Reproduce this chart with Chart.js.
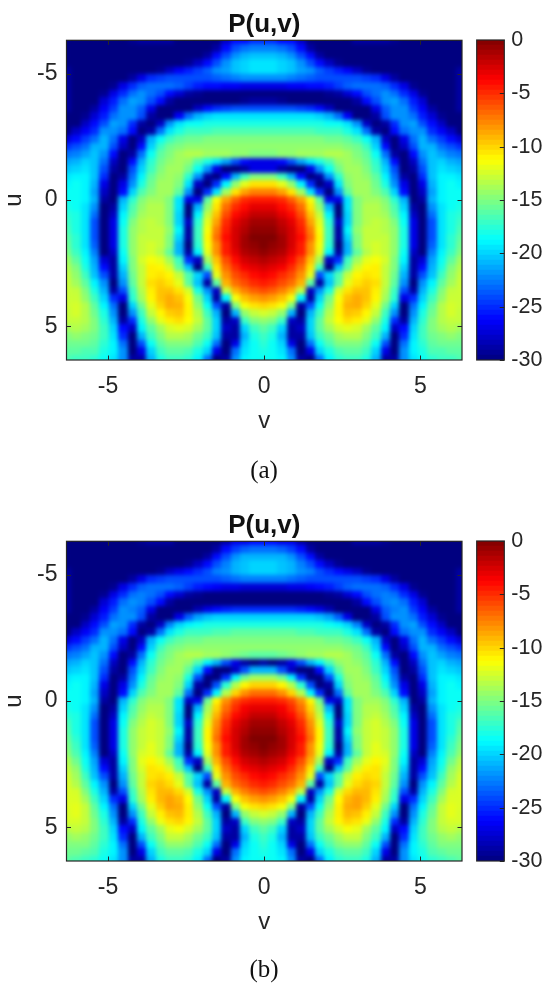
<!DOCTYPE html>
<html><head><meta charset="utf-8">
<script src="https://cdn.jsdelivr.net/npm/chart.js@4"></script>
<style>
html,body{margin:0;padding:0;background:#fff;width:544px;height:989px;overflow:hidden}
canvas{position:absolute}
.cap{position:absolute;left:214px;width:100px;text-align:center;font:25px "Liberation Serif",serif;color:#111;line-height:30px}
</style></head><body>
<canvas id="heatA" width="544" height="490" style="left:0;top:0"></canvas>
<canvas id="barA" width="74" height="490" style="left:470px;top:0"></canvas>
<div class="cap" style="top:455px">(a)</div>
<canvas id="heatB" width="544" height="490" style="left:0;top:501.3px"></canvas>
<canvas id="barB" width="74" height="490" style="left:470px;top:501.3px"></canvas>
<div class="cap" style="top:954px">(b)</div>
<script>
const titleText = "P(u,v)";
const xLabel = "v";
const yLabel = "u";
const xTickValues = [-5,0,5];
const yTickValues = [-5,0,5];
const colorMin = -30, colorMax = 0, colorStep = 5;
// v >= 0 columns; the pattern is mirror-symmetric about v = 0
const vValues = [0,.3,.6,.9,1.2,1.5,1.8,2.1,2.4,2.7,3,3.3,3.6,3.9,4.2,4.5,4.8,5.1,5.4,5.7,6,6.3];
const uValues = [-6.3,-6,-5.7,-5.4,-5.1,-4.8,-4.5,-4.2,-3.9,-3.6,-3.3,-3,-2.7,-2.4,-2.1,-1.8,-1.5,-1.2,-.9,-.6,-.3,0,.3,.6,.9,1.2,1.5,1.8,2.1,2.4,2.7,3,3.3,3.6,3.9,4.2,4.5,4.8,5.1,5.4,5.7,6,6.3];
const powerA = [
[-25,-25,-26,-26,-28,-30,-30,-30,-30,-30,-29,-29,-29,-29,-29.5,-30,-30,-30,-30,-30,-30,-30],
[-22.5,-22.5,-23,-24,-26,-29,-30,-30,-30,-30,-30,-30,-30,-30,-30,-30,-30,-30,-30,-30,-30,-30],
[-20.5,-20.5,-21,-22,-24,-26,-29,-30,-30,-30,-30,-30,-30,-30,-30,-30,-30,-30,-30,-30,-30,-30],
[-19.5,-19.5,-20,-20.5,-22,-24,-26,-28,-29.5,-30,-30,-30,-30,-30,-30,-30,-30,-30,-30,-30,-30,-30],
[-19.5,-19.5,-20,-20.5,-21.5,-22,-23.5,-24.5,-25.5,-26.5,-28,-29.5,-30,-30,-30,-30,-30,-30,-30,-30,-30,-29],
[-22,-22,-22,-22.5,-23,-23.5,-24,-24,-24,-24,-24,-24.5,-25,-27,-29,-30,-30,-30,-30,-30,-30,-29],
[-27,-27,-27,-26.5,-26.5,-26,-26,-25.5,-24.5,-23.5,-23,-23,-23,-23.5,-25,-27,-29.5,-30,-30,-30,-30,-29],
[-30,-30,-30,-30,-30,-30,-30,-29.5,-29,-27.5,-26,-24,-23,-22,-23,-25,-27,-29.5,-30,-30,-30,-29],
[-29,-29,-29.5,-30,-30,-30,-30,-30,-30,-30,-29,-26,-24,-22,-21.5,-23,-25.5,-27.5,-30,-30,-30,-29],
[-24,-24,-24,-24,-24.5,-25,-26,-28,-30,-30,-30,-30,-27,-23.5,-22,-22,-24.5,-26.5,-29,-30,-30,-29],
[-19.5,-19.5,-19.5,-19.5,-19.5,-19.5,-20,-21,-23,-26.5,-30,-30,-29,-24,-22,-22,-23,-25.5,-27.5,-29.5,-30,-30],
[-18,-18,-18,-18,-18,-18,-18,-18.5,-18.5,-19.5,-22,-28,-30,-29,-25,-22,-21.5,-24,-26,-28,-30,-30],
[-16.5,-16.5,-16.5,-16.5,-16.5,-16.5,-17,-17,-17,-18,-19.5,-23,-29,-30,-26,-23,-22,-22,-25,-26.5,-28,-30],
[-15,-15,-15,-15,-15,-15,-15,-15.5,-15.5,-16,-17,-18.5,-21,-28,-30,-27,-23,-21,-23,-24.5,-26,-27.5],
[-14.5,-14.5,-14.5,-14.5,-14.5,-14.5,-14.5,-14.5,-14.5,-15,-15.5,-17,-20,-26,-30,-28,-24,-21,-21,-23,-24,-25],
[-15,-15,-14.5,-14.5,-14,-14,-14,-13.5,-13.5,-14,-15,-16,-18.5,-23,-29,-30,-26,-22,-20.5,-21.5,-22.5,-23],
[-27,-27,-26,-24,-21.5,-19.5,-18,-16.5,-14.5,-14,-14.5,-15.5,-17.5,-21,-26,-30,-28,-23,-20.5,-20,-21,-21.5],
[-27,-27,-29,-30,-30,-27,-22,-18.5,-15.5,-14,-14,-15,-17,-20,-24,-30,-29,-24,-20.5,-19.5,-20,-20.5],
[-15,-15,-17,-21,-26,-30,-29,-22,-17.5,-14.5,-14,-14.5,-16,-19,-23,-29,-30,-25,-20.5,-19,-19,-19.5],
[-10.5,-10.5,-12,-14.5,-19,-25,-30,-28,-19.5,-15,-14,-14,-15.5,-18,-22,-27,-30,-27,-21,-19,-18.5,-19],
[-7.5,-7.5,-8.5,-10.5,-14,-19.5,-25,-30,-22,-16,-14,-14,-15,-16.5,-20,-26,-30,-28,-21.5,-19,-18.5,-18.5],
[-4.5,-4.5,-5,-6.5,-8.5,-11.5,-16,-27,-27,-19.5,-15,-14,-14,-15,-17.5,-21,-30,-29,-21,-19,-18.5,-18.5],
[-3,-3,-4,-5,-7,-10.5,-14.5,-21,-30,-19.5,-15,-13.5,-13.5,-14.5,-16.5,-20,-29,-30,-22,-19.5,-18.5,-18],
[-2,-2,-3,-4,-6,-9.5,-13,-19,-30,-20,-15,-13.5,-13.5,-14,-16,-19,-28,-30,-23,-19.5,-18,-17.5],
[-1,-1,-2,-3,-5,-8.5,-12,-17.5,-28,-20,-15,-13.5,-13,-13.5,-15,-18.5,-27,-30,-24,-19.5,-18,-17],
[-.5,-.5,-1.5,-2.5,-4.5,-7.5,-11.5,-17,-29,-19,-14.5,-13,-13,-13.5,-14.5,-18,-27,-30,-24,-19.5,-18,-16.5],
[0,0,-1,-2.5,-4,-7,-11,-17,-29,-20,-15,-13,-13,-13,-14.5,-18,-27,-30,-24,-19.5,-17.5,-16],
[0,-.5,-1,-2.5,-4.5,-8,-11.5,-17.5,-30,-21,-15,-13,-12.5,-13,-14.5,-18,-27,-30,-23.5,-19.5,-17.5,-15.5],
[-.5,-1,-1.5,-3,-4.5,-8,-12,-19,-29,-21,-16,-13.5,-12.5,-13,-14.5,-18.5,-28,-30,-22.5,-19,-17,-15],
[-1.5,-2,-2.5,-4,-6,-9.5,-14,-28,-25,-17,-14,-12,-11.5,-12.5,-15,-19,-29,-27.5,-21.5,-18.5,-16,-14],
[-2.5,-3,-3.5,-5,-7,-10.5,-17,-30,-20.5,-16,-12.5,-11,-10.8,-13,-15,-20,-29,-26,-21,-18,-15,-13.5],
[-3.5,-4,-5,-6,-8,-12,-24,-20,-16.5,-13,-11,-10.5,-10.8,-13,-15.5,-21,-29,-24,-20.5,-17,-14.5,-13],
[-4.5,-5,-6,-7,-9,-16,-29,-20.5,-16,-12,-10.5,-9.8,-10.3,-13,-16,-22,-30,-22,-19,-16,-14,-12.8],
[-6,-6.5,-7.5,-9,-13,-28,-22,-18,-12.5,-10.5,-9.5,-9.5,-10.8,-13.5,-17,-24,-29,-21,-18,-15,-13,-12.8],
[-8,-8.5,-9.5,-11.5,-19,-29,-20,-15.5,-11.5,-9.5,-8.8,-9.5,-11,-14,-17.5,-27,-25,-20,-17,-14.5,-12.8,-12.8],
[-10,-10.5,-11.5,-15,-29,-24,-18.5,-14.5,-11,-9,-8.8,-10,-12,-15.5,-20,-30,-23,-19,-16,-13.5,-12.5,-12.8],
[-12.5,-13,-14.5,-21,-30,-21,-17,-13.5,-11,-9.5,-9.8,-11,-13,-17,-22,-30,-22,-18,-15.5,-13.5,-12.5,-13],
[-14.5,-15,-17,-28,-29,-20,-16,-13,-11.3,-10.3,-10.8,-12,-14.5,-18,-25,-29,-21,-17.5,-15,-13.5,-13,-13],
[-16,-17,-20,-29,-28,-20,-16,-14,-12.5,-12,-12.5,-14,-16,-19,-28,-26,-20,-17,-15,-14,-13.5,-14],
[-17,-18,-21,-29,-29,-20.5,-17,-15.5,-14,-13.5,-13.5,-15,-17,-21,-30,-25,-19.5,-17,-15.5,-15,-14.5,-15],
[-17.5,-18.5,-20,-27,-30,-23,-18.5,-16.5,-15,-15,-15,-16,-18.5,-24,-30,-23,-19,-17.5,-16,-15.5,-15.5,-15.5],
[-18,-18.5,-19.5,-23,-30,-27,-20,-18,-16.5,-16,-16,-17,-20,-27,-30,-22,-19,-18,-16.5,-16.5,-16,-16],
[-18.5,-18.5,-19,-22,-29,-30,-23,-19,-17.5,-17,-17,-18,-21,-29,-29,-22,-19.5,-18.5,-17.5,-17,-17,-16.5]
];
const powerB = [
[-26,-26,-27,-27,-29,-30,-30,-30,-30,-30,-29,-29,-29,-29.5,-30,-30,-30,-30,-30,-30,-30,-30],
[-23,-23,-23.5,-24.5,-26,-29,-30,-30,-30,-30,-30,-30,-30,-30,-30,-30,-30,-30,-30,-30,-30,-30],
[-21,-21,-21,-22,-24,-26,-29,-30,-30,-30,-30,-30,-30,-30,-30,-30,-30,-30,-30,-30,-30,-30],
[-20,-20,-20.5,-21,-22.5,-24,-26,-28,-29.5,-30,-30,-30,-30,-30,-30,-30,-30,-30,-30,-30,-30,-30],
[-20,-20,-20.5,-21,-22,-22.5,-24,-25,-26,-27,-28,-29.5,-30,-30,-30,-30,-30,-30,-30,-30,-30,-29],
[-22.5,-22.5,-22.5,-23,-23.5,-24,-24,-24,-24,-24,-24,-24.5,-25,-27,-29,-30,-30,-30,-30,-30,-30,-29],
[-27.5,-27.5,-27.5,-27,-27,-26.5,-26,-25.5,-24.5,-23.5,-23,-23,-23,-23.5,-25,-27,-29.5,-30,-30,-30,-30,-29],
[-30,-30,-30,-30,-30,-30,-30,-29.5,-29,-27.5,-26,-24,-23,-22.5,-23,-25,-27,-29.5,-30,-30,-30,-29],
[-30,-30,-30,-30,-30,-30,-30,-30,-30,-30,-29,-26,-24,-22.5,-22,-23,-25.5,-27.5,-30,-30,-30,-29],
[-25,-25,-25,-25,-25.5,-26,-27,-28.5,-30,-30,-30,-30,-27,-23.5,-22.5,-22,-24.5,-26.5,-29,-30,-30,-29],
[-20,-20,-20,-20,-20,-20,-20.5,-21.5,-23.5,-27,-30,-30,-29,-24,-22,-22,-23,-25.5,-27.5,-29.5,-30,-30],
[-18,-18,-18,-18,-18,-18,-18,-18.5,-19,-20,-22.5,-28,-30,-29,-25,-22,-21.5,-24,-26,-28,-30,-30],
[-16,-16,-16,-16,-16.5,-16.5,-17,-17,-17,-18,-19.5,-23,-29,-30,-26,-23,-22,-22,-25,-26.5,-28,-30],
[-15,-15,-15,-15,-15,-15,-15,-15.5,-15.5,-16,-17,-18.5,-21,-28,-30,-27,-23,-21,-23,-24.5,-26,-27.5],
[-14.5,-14.5,-14.5,-14.5,-14.5,-14.5,-14.5,-14.5,-14.5,-15,-15.5,-17,-20,-26,-30,-28,-24,-21,-21,-23,-24,-25],
[-16,-16,-15.5,-15,-14.5,-14,-14,-13.5,-13.5,-14,-15,-16,-18.5,-23,-29,-30,-26,-22,-20.5,-21.5,-22.5,-23],
[-29,-30,-29,-27,-24,-21,-19,-16.5,-14.5,-14,-14.5,-15.5,-17.5,-21,-26,-30,-28,-23,-20.5,-20,-21,-21.5],
[-21,-21,-24,-28,-30,-30,-26,-20,-16,-14,-14,-15,-17,-20,-24,-30,-29,-24,-20.5,-19.5,-20,-20.5],
[-14,-14,-15.5,-19,-25,-30,-30,-24,-18,-14.5,-14,-14.5,-16,-19,-23,-29,-30,-25,-20.5,-19,-19,-19.5],
[-10,-10,-11,-13.5,-17.5,-24,-30,-29,-20,-15,-14,-14,-15.5,-18,-22,-27,-30,-27,-21,-19,-18.5,-19],
[-7,-7,-8,-10,-13.5,-19,-25,-30,-23,-16,-14,-14,-15,-16.5,-20,-26,-30,-28,-21.5,-19,-18.5,-18.5],
[-4.5,-4.5,-5,-6,-8,-11,-15.5,-27,-28,-19.5,-15,-14,-14,-15,-17.5,-21,-30,-29,-21,-19,-18.5,-18.5],
[-3,-3,-3.5,-5,-7,-10,-14,-21,-30,-19.5,-15,-13.5,-13.5,-14.5,-16.5,-20,-29,-30,-22,-19.5,-18.5,-18],
[-2,-2,-3,-4,-6,-9,-13,-19,-30,-20,-15,-13.5,-13,-14,-16,-19,-28,-30,-23,-19.5,-18,-17.5],
[-1,-1,-2,-3,-5,-8,-12,-17.5,-28,-20,-15,-13,-12.5,-13.5,-15,-18.5,-27,-30,-24,-19.5,-18,-16.5],
[-.5,-.5,-1.5,-2.5,-4.5,-7.5,-11,-17,-29,-19,-14.5,-13,-12.5,-13,-14.5,-18,-27,-30,-24,-19.5,-18,-16],
[0,0,-1,-2.5,-4,-7,-11,-17,-29,-20,-15,-13,-12.5,-13,-14.5,-18,-27,-30,-24,-19.5,-17.5,-15.5],
[0,-.5,-1,-2.5,-4.5,-8,-11.5,-17.5,-30,-21,-15,-13,-12,-13,-14.5,-18,-27,-30,-23.5,-19.5,-17,-15],
[-.5,-1,-1.5,-3,-4.5,-8,-12,-19,-29,-21,-16,-13,-12,-12.5,-14.5,-18.5,-28,-30,-22.5,-19,-16.5,-14.5],
[-1.5,-2,-2.5,-4,-6,-9,-14,-28,-25,-17,-14,-12,-11,-12,-15,-19,-29,-27.5,-21.5,-18.5,-15.5,-13.5],
[-2.5,-3,-3.5,-5,-7,-10.5,-17,-30,-20.5,-16,-12.5,-10.8,-10.5,-12.5,-15,-20,-29,-26,-21,-18,-14.5,-13],
[-3.5,-4,-5,-6,-8,-12,-24,-20,-16.5,-13,-10.8,-10.2,-10.5,-13,-15.5,-21,-29,-24,-20.5,-17,-14,-12.5],
[-4.5,-5,-6,-7,-9,-16,-29,-20.5,-16,-12,-10.2,-9.5,-10,-13,-16,-22,-30,-22,-19,-16,-13.5,-12.3],
[-6,-6.5,-7.5,-9,-13,-28,-22,-18,-12.5,-10.2,-9.2,-9.2,-10.5,-13.5,-17,-24,-29,-21,-18,-15,-12.5,-12.3],
[-8,-8.5,-9.5,-11.5,-19,-29,-20,-15.5,-11.2,-9.2,-8.5,-9.2,-10.8,-14,-17.5,-27,-25,-20,-17,-14,-12.3,-12.3],
[-10,-10.5,-11.5,-15,-29,-24,-18.5,-14.5,-10.8,-8.8,-8.5,-9.8,-12,-15.5,-20,-30,-23,-19,-16,-13,-12,-12.3],
[-12.5,-13,-14.5,-21,-30,-21,-17,-13.5,-10.8,-9.2,-9.5,-10.8,-13,-17,-22,-30,-22,-18,-15.5,-13,-12,-12.5],
[-14.5,-15,-17,-28,-29,-20,-16,-13,-11,-10,-10.5,-11.8,-14.5,-18,-25,-29,-21,-17.5,-15,-13,-12.5,-12.5],
[-16,-17,-20,-29,-28,-20,-16,-14,-12.5,-11.5,-12,-14,-16,-19,-28,-26,-20,-17,-15,-13.5,-13,-13.5],
[-17,-18,-21,-29,-29,-20.5,-17,-15.5,-14,-13,-13,-15,-17,-21,-30,-25,-19.5,-17,-15.5,-14.5,-14,-14.5],
[-17.5,-18.5,-20,-27,-30,-23,-18.5,-16.5,-15,-14.5,-14.5,-16,-18.5,-24,-30,-23,-19,-17.5,-16,-15,-15,-15],
[-18,-18.5,-19.5,-23,-30,-27,-20,-18,-16.5,-16,-16,-17,-20,-27,-30,-22,-19,-18,-16.5,-16,-15.5,-15.5],
[-18.5,-18.5,-19,-22,-29,-30,-23,-19,-17.5,-17,-17,-18,-21,-29,-29,-22,-19.5,-18.5,-17.5,-17,-16.5,-16]
];

const ink = "#262626";
const fontFamily = "'Liberation Sans',Arial,sans-serif";
const tickFont = {family:fontFamily, size:23};
const barTickFont = {family:fontFamily, size:21.5};
const labelFont = {family:fontFamily, size:24};
const titleFont = {family:fontFamily, size:26, weight:"bold", lineHeight:1.1};

function jet(value){
  const t = (value-colorMin)/(colorMax-colorMin);
  const ramp = c => Math.round(255*Math.max(0,Math.min(1,1.5-Math.abs(4*t-c))));
  return `rgb(${ramp(3)},${ramp(2)},${ramp(1)})`;
}
const stamps = new Map();
function cellStamp(value){
  const color = jet(value);
  if(!stamps.has(color)){
    const c = document.createElement("canvas");
    c.width = 11; c.height = 9;
    const g = c.getContext("2d");
    g.fillStyle = color; g.fillRect(0,0,11,9);
    stamps.set(color,c);
  }
  return stamps.get(color);
}
function cells(rows){
  const out = [];
  uValues.forEach((u,i)=>{
    for(let j=vValues.length-1;j>0;j--) out.push({x:-vValues[j],y:u,value:rows[i][j]});
    vValues.forEach((v,j)=>out.push({x:v,y:u,value:rows[i][j]}));
  });
  return out;
}
// soften the cell edges inside the plot area (the reference is a much finer raster)
function soften(chart,radius){
  const {ctx,chartArea:a,canvas} = chart;
  const L=Math.floor(a.left),T=Math.floor(a.top),W=Math.ceil(a.right)-L,H=Math.ceil(a.bottom)-T,m=10;
  const tmp=document.createElement("canvas"); tmp.width=W+2*m; tmp.height=H+2*m;
  const g=tmp.getContext("2d");
  g.drawImage(canvas,L,T,W,H,m,m,W,H);
  g.drawImage(canvas,L+1,T,1,H,0,m,m,H);
  g.drawImage(canvas,L+W-2,T,1,H,m+W,m,m,H);
  g.drawImage(tmp,0,m+1,W+2*m,1,0,0,W+2*m,m);
  g.drawImage(tmp,0,m+H-2,W+2*m,1,0,m+H,W+2*m,m);
  ctx.save();
  ctx.beginPath(); ctx.rect(a.left,a.top,a.right-a.left,a.bottom-a.top); ctx.clip();
  ctx.filter=`blur(${radius}px)`;
  ctx.drawImage(tmp,L-m,T-m);
  ctx.restore();
}
const framePlugin = {
  id:"frame",
  afterDatasetsDraw(chart,args,opts){
    if(opts.heat) soften(chart,2.2);
    const {ctx,chartArea:a,scales} = chart;
    ctx.save();
    ctx.strokeStyle = ink; ctx.lineWidth = 1;
    ctx.beginPath();
    const mark = 4.5;
    if(opts.heat){
      xTickValues.forEach(v=>{const p=Math.round(scales.x.getPixelForValue(v))+.5;
        ctx.moveTo(p,a.bottom);ctx.lineTo(p,a.bottom-mark);ctx.moveTo(p,a.top);ctx.lineTo(p,a.top+mark);});
      yTickValues.forEach(v=>{const p=Math.round(scales.y.getPixelForValue(v))+.5;
        ctx.moveTo(a.left,p);ctx.lineTo(a.left+mark,p);ctx.moveTo(a.right,p);ctx.lineTo(a.right-mark,p);});
    } else {
      scales.y.ticks.forEach(t=>{const p=Math.round(scales.y.getPixelForValue(t.value))+.5;
        ctx.moveTo(a.right,p);ctx.lineTo(a.right-mark,p);});
    }
    ctx.stroke();
    ctx.lineWidth = 1.2;
    ctx.strokeRect(a.left,a.top,a.right-a.left,a.bottom-a.top);
    ctx.restore();
  }
};
function heatChart(id,rows){
  return new Chart(document.getElementById(id),{
    type:"scatter",
    data:{datasets:[{data:cells(rows),pointRadius:1,borderWidth:0,hoverRadius:1,
      pointStyle:c=>c.raw?cellStamp(c.raw.value):"rect"}]},
    plugins:[framePlugin],
    options:{
      responsive:false,animation:false,events:[],
      layout:{padding:{left:0,right:82,top:0,bottom:0}},
      plugins:{legend:{display:false},tooltip:{enabled:false},frame:{heat:true},
        title:{display:true,text:titleText,color:"#111",font:titleFont,fullSize:false,padding:{top:10.7,bottom:1}}},
      scales:{
        x:{type:"linear",min:-6.33,max:6.33,grid:{display:false,drawTicks:false},border:{display:false},
          afterBuildTicks:s=>{s.ticks=xTickValues.map(value=>({value}));},
          afterFit:s=>{s.height=130;},
          ticks:{color:ink,font:tickFont,padding:13,maxRotation:0,autoSkip:false},
          title:{display:true,text:xLabel,color:ink,font:labelFont,padding:{top:0,bottom:54.6}}},
        y:{type:"linear",reverse:true,min:-6.33,max:6.33,grid:{display:false,drawTicks:false},border:{display:false},
          afterBuildTicks:s=>{s.ticks=yTickValues.map(value=>({value}));},
          afterFit:s=>{s.width=66.5;},
          ticks:{color:ink,font:tickFont,padding:9,autoSkip:false},
          title:{display:true,text:yLabel,color:ink,font:labelFont,padding:{top:0,bottom:2.6}}}
      }
    }
  });
}
function barChart(id){
  const levels = 64, size = (colorMax-colorMin)/levels;
  const sets = [];
  for(let i=0;i<levels;i++){
    const lo = colorMin+i*size;
    sets.push({data:[[lo,lo+size]],backgroundColor:jet(lo+size/2),borderWidth:0,barPercentage:1,categoryPercentage:1});
  }
  return new Chart(document.getElementById(id),{
    type:"bar",
    data:{labels:[""],datasets:sets},
    plugins:[framePlugin],
    options:{
      responsive:false,animation:false,events:[],
      layout:{padding:{left:6.7,right:0,top:40,bottom:130}},
      plugins:{legend:{display:false},tooltip:{enabled:false},frame:{heat:false}},
      scales:{
        x:{stacked:true,display:false},
        y:{position:"right",min:colorMin,max:colorMax,grid:{display:false,drawTicks:false},border:{display:false},
          afterFit:s=>{s.width=39.7;},
          ticks:{stepSize:colorStep,color:ink,font:barTickFont,padding:7,autoSkip:false}}
      }
    }
  });
}
heatChart("heatA",powerA); barChart("barA");
heatChart("heatB",powerB); barChart("barB");
</script>
</body></html>
